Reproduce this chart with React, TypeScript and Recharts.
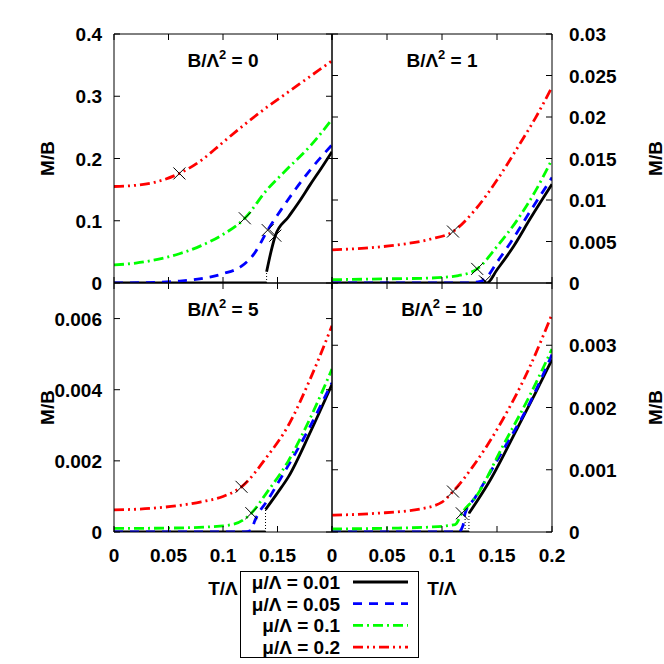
import React from "react";
import { ComposedChart, Line, Scatter, XAxis, YAxis, Label } from "recharts";

// Magnetización M/B frente a T/Λ para cuatro valores de B/Λ².
const FONT = "'Liberation Sans', Arial, Helvetica, sans-serif";

const T_TICKS = [0, 0.05, 0.1, 0.15, 0.2];
const MU_LABELS = ["μ/Λ = 0.01", "μ/Λ = 0.05", "μ/Λ = 0.1", "μ/Λ = 0.2"];

// B/Λ² = 0
const B0_Y_TICKS = [0, 0.1, 0.2, 0.3, 0.4];
const B0_BLACK_A = [[0, 0], [0.14, 0]];
const B0_BLACK_B = [[0.14, 0.018], [0.144, 0.05], [0.148, 0.076], [0.16, 0.106], [0.17, 0.131], [0.18, 0.158], [0.19, 0.184], [0.2, 0.211]];
const B0_BLUE = [[0, 0], [0.04, 0.001], [0.06, 0.003], [0.08, 0.007], [0.1, 0.015], [0.117, 0.027], [0.129, 0.048], [0.141, 0.085], [0.155, 0.122], [0.177, 0.175], [0.2, 0.222]];
const B0_GREEN = [[0, 0.029], [0.02, 0.032], [0.04, 0.038], [0.06, 0.047], [0.08, 0.06], [0.1, 0.078], [0.12, 0.104], [0.14, 0.149], [0.16, 0.185], [0.18, 0.22], [0.2, 0.263]];
const B0_RED = [[0, 0.155], [0.02, 0.157], [0.04, 0.163], [0.06, 0.176], [0.08, 0.197], [0.1, 0.226], [0.12, 0.255], [0.14, 0.282], [0.16, 0.307], [0.18, 0.332], [0.2, 0.357]];
const B0_CROSS = [[0.06, 0.176], [0.12, 0.104], [0.141, 0.085], [0.148, 0.076]];
const B0_DROP = [[[0.14, 0], [0.14, 0.018]]];

// B/Λ² = 1
const B1_Y_TICKS = [0, 0.005, 0.01, 0.015, 0.02, 0.025, 0.03];
const B1_BLACK = [[0, 0], [0.141, 0], [0.15, 0.0016], [0.165, 0.0044], [0.18, 0.0077], [0.2, 0.0119]];
const B1_BLUE = [[0, 0], [0.12, 0], [0.135, 0.0002], [0.14, 0.0006], [0.15, 0.0025], [0.162, 0.0048], [0.18, 0.0086], [0.2, 0.0127]];
const B1_GREEN = [[0, 0.0004], [0.05, 0.0005], [0.09, 0.0006], [0.115, 0.0009], [0.132, 0.0017], [0.15, 0.0044], [0.17, 0.0079], [0.185, 0.0111], [0.2, 0.0149]];
const B1_RED = [[0, 0.004], [0.03, 0.0042], [0.06, 0.0046], [0.09, 0.0053], [0.11, 0.0062], [0.13, 0.0088], [0.15, 0.0124], [0.17, 0.0166], [0.185, 0.0199], [0.2, 0.0236]];
const B1_CROSS = [[0.11, 0.0062], [0.132, 0.0017], [0.139, 0.0002], [0.141, 0]];

// B/Λ² = 5
const B5_Y_TICKS = [0, 0.002, 0.004, 0.006];
const B5_BLACK_A = [[0, 0], [0.139, 0]];
const B5_BLACK_B = [[0.139, 0.00063], [0.15, 0.0011], [0.16, 0.00155], [0.18, 0.0028], [0.2, 0.00415]];
const B5_BLUE = [[0, 0], [0.12, 0], [0.126, 0.00005], [0.129, 0.0003], [0.133, 0.00055], [0.14, 0.00085], [0.152, 0.00146], [0.177, 0.0028], [0.2, 0.0042]];
const B5_GREEN = [[0, 0.0001], [0.05, 0.00011], [0.09, 0.00015], [0.11, 0.00022], [0.126, 0.00053], [0.14, 0.0011], [0.16, 0.002], [0.18, 0.0032], [0.2, 0.00458]];
const B5_RED = [[0, 0.00062], [0.04, 0.00068], [0.08, 0.00085], [0.1, 0.001], [0.117, 0.00127], [0.14, 0.0021], [0.16, 0.003], [0.18, 0.0043], [0.2, 0.0058]];
const B5_CROSS = [[0.117, 0.00127], [0.126, 0.00053]];
const B5_DROP = [[[0.139, 0], [0.139, 0.00063]]];

// B/Λ² = 10
const B10_Y_TICKS = [0, 0.001, 0.002, 0.003];
const B10_BLACK_A = [[0, 0], [0.1245, 0]];
const B10_BLACK_B = [[0.1245, 0.0003], [0.144, 0.00084], [0.168, 0.00165], [0.184, 0.0022], [0.2, 0.00277]];
const B10_BLUE = [[0, 0], [0.115, 0], [0.119, 0.0001], [0.121, 0.0003], [0.13, 0.00055], [0.155, 0.0013], [0.18, 0.00208], [0.2, 0.00285]];
const B10_GREEN = [[0, 0.00005], [0.05, 0.00006], [0.09, 0.00008], [0.112, 0.00012], [0.118, 0.0003], [0.131, 0.00057], [0.155, 0.00137], [0.18, 0.0022], [0.2, 0.00294]];
const B10_RED = [[0, 0.00027], [0.04, 0.0003], [0.08, 0.00037], [0.1, 0.00048], [0.11, 0.00065], [0.128, 0.00105], [0.155, 0.0018], [0.18, 0.00266], [0.2, 0.0035]];
const B10_CROSS = [[0.11, 0.00065], [0.118, 0.0003]];
const B10_DROP = [[[0.121, 0], [0.121, 0.0003]], [[0.1245, 0], [0.1245, 0.0003]]];

const STYLES = [
  { stroke: "#000000", dash: undefined as string | undefined },
  { stroke: "#0000ff", dash: "9 7" },
  { stroke: "#00ff00", dash: "10 4 2 4" },
  { stroke: "#ff0000", dash: "10 4 2 4 2 4" },
];

const toPts = (a: number[][]) => a.map(([t, m]) => ({ t, m }));

const txt = { fontFamily: FONT, fontWeight: 700, fontSize: 19, fill: "#000" } as const;

const L = 80, R = 120, TOP = 10, BOT = 70;

function Cross(p: any) {
  const { cx, cy } = p;
  const s = 6;
  return <path d={`M${cx - s},${cy - s}L${cx + s},${cy + s}M${cx - s},${cy + s}L${cx + s},${cy - s}`} stroke="#000" strokeWidth={1} fill="none" />;
}

type PanelProps = {
  left: number; top: number; w: number; h: number;
  yMax: number; yTicks: number[]; side: "left" | "right";
  xLabels: boolean; hideLastX: boolean; title: string;
  lines: { data: number[][]; s: number }[];
  drops: number[][][]; crosses: number[][];
};

function Panel({ left, top, w, h, yMax, yTicks, side, xLabels, hideLastX, title, lines, drops, crosses }: PanelProps) {
  const bottomTick = (p: any) => {
    const v = p.payload.value;
    const show = xLabels && !(hideLastX && v === 0.2);
    return (
      <g>
        <line x1={p.x} x2={p.x} y1={p.y} y2={p.y - 6} stroke="#000" />
        {show && <text x={p.x} y={p.y + 30} textAnchor="middle" {...txt}>{String(v)}</text>}
      </g>
    );
  };
  const topTick = (p: any) => <line x1={p.x} x2={p.x} y1={p.y} y2={p.y + 6} stroke="#000" />;
  const leftTick = (p: any) => (
    <g>
      <line x1={p.x} x2={p.x + 6} y1={p.y} y2={p.y} stroke="#000" />
      {side === "left" && <text x={p.x - 12} y={p.y + 7} textAnchor="end" {...txt}>{String(p.payload.value)}</text>}
    </g>
  );
  const rightTick = (p: any) => (
    <g>
      <line x1={p.x} x2={p.x - 6} y1={p.y} y2={p.y} stroke="#000" />
      {side === "right" && <text x={p.x + 17} y={p.y + 7} textAnchor="start" {...txt}>{String(p.payload.value)}</text>}
    </g>
  );
  const cy = TOP + h / 2;
  const mx = side === "left" ? 13 : L + w + 103;
  return (
    <div style={{ position: "absolute", left: left - L, top: top - TOP }}>
      <ComposedChart width={w + L + R} height={h + TOP + BOT} margin={{ top: 0, right: 0, bottom: 0, left: 0 }}>
        <XAxis xAxisId="b" orientation="bottom" dataKey="t" type="number" domain={[0, 0.2]} ticks={T_TICKS} interval={0}
          height={BOT} tickSize={0} tickMargin={0} tickLine={false} tick={bottomTick} axisLine={{ stroke: "#000" }} allowDataOverflow>
          <Label content={() => xLabels ? <text x={L + w / 2} y={TOP + h + 63} textAnchor="middle" {...txt}>T/Λ</text> : null} />
        </XAxis>
        <XAxis xAxisId="t" orientation="top" dataKey="t" type="number" domain={[0, 0.2]} ticks={T_TICKS} interval={0}
          height={TOP} tickSize={0} tickMargin={0} tickLine={false} tick={topTick} axisLine={{ stroke: "#000" }} allowDataOverflow>
          <Label content={() => (
            <text x={L + w / 2} y={TOP + 33} textAnchor="middle" {...txt}>
              B/Λ<tspan fontSize={13} dy={-8}>2</tspan><tspan dy={8}> = {title}</tspan>
            </text>
          )} />
        </XAxis>
        <YAxis yAxisId="l" orientation="left" dataKey="m" type="number" domain={[0, yMax]} ticks={yTicks} interval={0}
          width={L} tickSize={0} tickMargin={0} tickLine={false} tick={leftTick} axisLine={{ stroke: "#000" }} allowDataOverflow>
          <Label content={() => (
            <text x={mx} y={cy} transform={`rotate(-90 ${mx} ${cy})`} textAnchor="middle" dominantBaseline="central" {...txt}>M/B</text>
          )} />
        </YAxis>
        <YAxis yAxisId="r" orientation="right" type="number" domain={[0, yMax]} ticks={yTicks} interval={0}
          width={R} tickSize={0} tickMargin={0} tickLine={false} tick={rightTick} axisLine={{ stroke: "#000" }} allowDataOverflow />
        {drops.map((d, i) => (
          <Line key={"d" + i} xAxisId="b" yAxisId="l" data={toPts(d)} dataKey="m" type="linear" stroke="#000"
            strokeWidth={1} strokeDasharray="1 2" dot={false} activeDot={false} isAnimationActive={false} />
        ))}
        {lines.map((ln, i) => (
          <Line key={"l" + i} xAxisId="b" yAxisId="l" data={toPts(ln.data)} dataKey="m" type="monotone"
            stroke={STYLES[ln.s].stroke} strokeDasharray={STYLES[ln.s].dash} strokeWidth={2.8}
            dot={false} activeDot={false} isAnimationActive={false} />
        ))}
        <Scatter xAxisId="b" yAxisId="l" data={toPts(crosses)} dataKey="m" shape={Cross} isAnimationActive={false} />
      </ComposedChart>
    </div>
  );
}

function LegendBox() {
  return (
    <svg style={{ position: "absolute", left: 240, top: 571 }} width={180} height={88}>
      <rect x={0.5} y={0.5} width={178} height={86} fill="#fff" stroke="#000" />
      {MU_LABELS.map((lab, i) => {
        const y = 11 + i * 21.7;
        return (
          <g key={lab}>
            <text x={100} y={y + 7} textAnchor="end" {...txt}>{lab}</text>
            <line x1={113} x2={168} y1={y} y2={y} stroke={STYLES[i].stroke} strokeWidth={2.8} strokeDasharray={STYLES[i].dash} />
          </g>
        );
      })}
    </svg>
  );
}

export default function App() {
  return (
    <div style={{ position: "absolute", left: 0, top: 0, width: 664, height: 664, overflow: "hidden", background: "#fff" }}>
      <Panel left={114} top={34} w={218} h={249} yMax={0.4} yTicks={B0_Y_TICKS} side="left" xLabels={false} hideLastX title="0"
        lines={[{ data: B0_BLACK_A, s: 0 }, { data: B0_BLACK_B, s: 0 }, { data: B0_BLUE, s: 1 }, { data: B0_GREEN, s: 2 }, { data: B0_RED, s: 3 }]}
        drops={B0_DROP} crosses={B0_CROSS} />
      <Panel left={332} top={34} w={220} h={249} yMax={0.03} yTicks={B1_Y_TICKS} side="right" xLabels={false} hideLastX={false} title="1"
        lines={[{ data: B1_BLACK, s: 0 }, { data: B1_BLUE, s: 1 }, { data: B1_GREEN, s: 2 }, { data: B1_RED, s: 3 }]}
        drops={[]} crosses={B1_CROSS} />
      <Panel left={114} top={283} w={218} h={249} yMax={0.007} yTicks={B5_Y_TICKS} side="left" xLabels hideLastX title="5"
        lines={[{ data: B5_BLACK_A, s: 0 }, { data: B5_BLACK_B, s: 0 }, { data: B5_BLUE, s: 1 }, { data: B5_GREEN, s: 2 }, { data: B5_RED, s: 3 }]}
        drops={B5_DROP} crosses={B5_CROSS} />
      <Panel left={332} top={283} w={220} h={249} yMax={0.004} yTicks={B10_Y_TICKS} side="right" xLabels hideLastX={false} title="10"
        lines={[{ data: B10_BLACK_A, s: 0 }, { data: B10_BLACK_B, s: 0 }, { data: B10_BLUE, s: 1 }, { data: B10_GREEN, s: 2 }, { data: B10_RED, s: 3 }]}
        drops={B10_DROP} crosses={B10_CROSS} />
      <LegendBox />
    </div>
  );
}
